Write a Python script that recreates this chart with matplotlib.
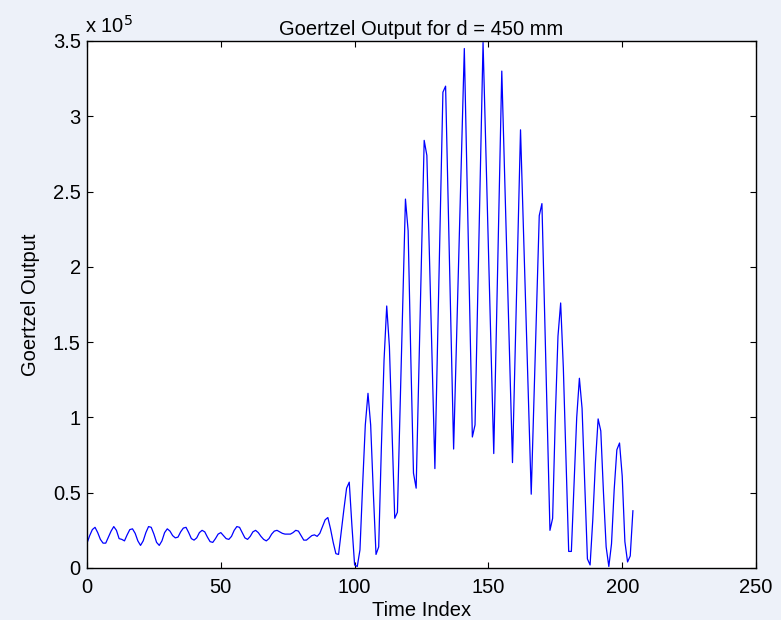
import numpy as np
import matplotlib
matplotlib.use("Agg")
import matplotlib.pyplot as plt
from matplotlib.ticker import FuncFormatter

plt.rcParams['font.family'] = ['Liberation Sans', 'DejaVu Sans']

# Goertzel output, in units of 1e5 (index 0..204)
goertzel_e5 = [
    0.165, 0.215, 0.255, 0.27, 0.235, 0.19, 0.165, 0.165, 0.205, 0.245,
    0.275, 0.25, 0.195, 0.19, 0.18, 0.22, 0.255, 0.26, 0.23, 0.18,
    0.15, 0.18, 0.235, 0.275, 0.27, 0.225, 0.17, 0.15, 0.18, 0.235,
    0.26, 0.245, 0.215, 0.2, 0.205, 0.24, 0.265, 0.27, 0.235, 0.195,
    0.185, 0.2, 0.235, 0.25, 0.24, 0.205, 0.175, 0.17, 0.195, 0.225,
    0.235, 0.215, 0.195, 0.19, 0.21, 0.25, 0.275, 0.27, 0.235, 0.2,
    0.19, 0.21, 0.24, 0.25, 0.235, 0.21, 0.19, 0.18, 0.195, 0.225,
    0.245, 0.25, 0.24, 0.23, 0.225, 0.225, 0.225, 0.235, 0.25, 0.245,
    0.215, 0.185, 0.185, 0.2, 0.215, 0.22, 0.21, 0.23, 0.275, 0.32,
    0.335, 0.26, 0.17, 0.095, 0.09, 0.24, 0.39, 0.53, 0.57, 0.28,
    0.02, 0.01, 0.12, 0.55, 0.95, 1.16, 0.95, 0.50, 0.09, 0.14,
    0.80, 1.38, 1.74, 1.47, 0.90, 0.33, 0.37, 1.06, 1.76, 2.45,
    2.24, 1.40, 0.63, 0.53, 1.30, 2.07, 2.84, 2.74, 2.05, 1.35,
    0.66, 1.49, 2.33, 3.16, 3.20, 2.40, 1.59, 0.79, 1.45, 2.12,
    2.78, 3.45, 2.59, 1.73, 0.87, 0.95, 1.80, 2.64, 3.49, 2.81,
    2.12, 1.44, 0.76, 1.61, 2.45, 3.30, 2.65, 2.00, 1.35, 0.70,
    1.44, 2.17, 2.91, 2.31, 1.70, 1.10, 0.49, 1.11, 1.72, 2.34,
    2.42, 1.70, 0.97, 0.25, 0.33, 1.00, 1.54, 1.76, 1.33, 0.72,
    0.11, 0.11, 0.55, 1.00, 1.26, 1.06, 0.55, 0.06, 0.02, 0.32,
    0.70, 0.99, 0.91, 0.50, 0.14, 0.01, 0.16, 0.52, 0.785, 0.83,
    0.61, 0.175, 0.04, 0.08, 0.38,
]
time_index = np.arange(len(goertzel_e5))
goertzel = np.array(goertzel_e5) * 1e5

x_ticks = [0, 50, 100, 150, 200, 250]
y_ticks = [0, 0.5e5, 1e5, 1.5e5, 2e5, 2.5e5, 3e5, 3.5e5]

fs = 14.5

fig = plt.figure(figsize=(7.81, 6.2), dpi=100, facecolor='#edf1f9')
ax = fig.add_axes([0.1114, 0.0839, 0.8566, 0.8500])
ax.set_facecolor('white')

ax.plot(time_index, goertzel, color='#0000ff', linewidth=0.9)

ax.set_xlim(0, 250)
ax.set_ylim(0, 3.5e5)
ax.set_xticks(x_ticks)
ax.set_yticks(y_ticks)
ax.yaxis.set_major_formatter(FuncFormatter(lambda v, p: f'{v / 1e5:g}'))
ax.tick_params(direction='in', top=True, right=True, length=4, width=0.8,
               labelsize=fs)
ax.tick_params(axis='x', pad=7)
ax.tick_params(axis='y', pad=4.5)
for s in ax.spines.values():
    s.set_linewidth(1.0)

ax.set_title('Goertzel Output for d = 450 mm', fontsize=fs, pad=4)
ax.set_xlabel('Time Index', fontsize=fs, labelpad=3)
ax.set_ylabel('Goertzel Output', fontsize=fs, labelpad=9)
ax.text(-0.003, 1.008, 'x 10$^5$', transform=ax.transAxes, fontsize=fs,
        ha='left', va='bottom')

fig.savefig('out.png', dpi=100, facecolor=fig.get_facecolor())
